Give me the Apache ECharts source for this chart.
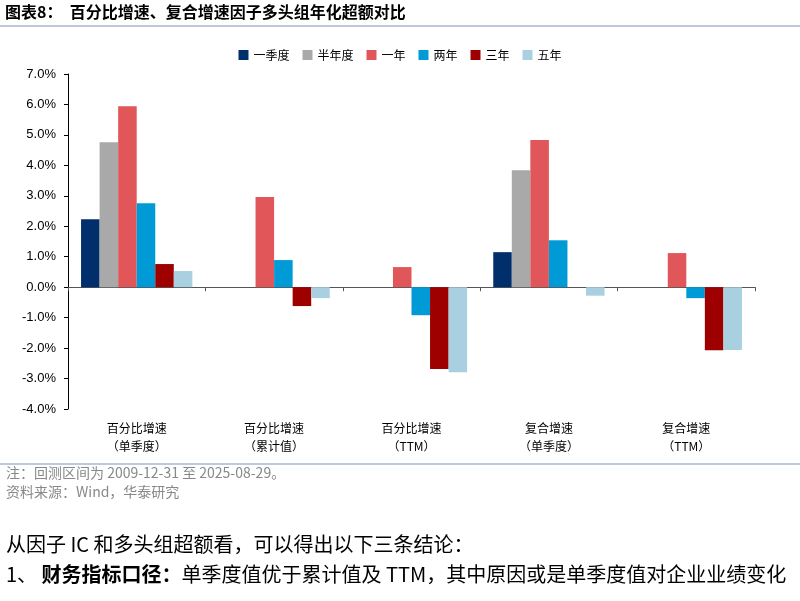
<!DOCTYPE html>
<html><head><meta charset="utf-8">
<script src="https://cdn.jsdelivr.net/npm/echarts@6/dist/echarts.min.js"></script>
<style>html,body{margin:0;padding:0;background:#fff}#c{width:800px;height:601px}</style>
</head><body><div id="c"></div>
<script>
var categories = ['百分比增速\n（单季度）','百分比增速\n（累计值）','百分比增速\n（TTM）','复合增速\n（单季度）','复合增速\n（TTM）'];
var seriesNames = ['一季度','半年度','一年','两年','三年','五年'];
var s1 = [2.23, null, null, 1.15, null];
var s2 = [4.76, null, null, 3.84, null];
var s3 = [5.94, 2.96, 0.66, 4.83, 1.12];
var s4 = [2.76, 0.89, -0.92, 1.54, -0.36];
var s5 = [0.76, -0.62, -2.69, 0.0, -2.07];
var s6 = [0.53, -0.36, -2.79, -0.28, -2.06];
var colors = ['#002f6c','#a9a9a9','#e15759','#009bd6','#9e0000','#a9d0e0'];
var yTicks = {min:-4, max:7, interval:1};

var font = '"Noto Sans CJK SC", "Liberation Sans", sans-serif';
var allData = [s1,s2,s3,s4,s5,s6];
var chart = echarts.init(document.getElementById('c'));
chart.setOption({
  animation:false,
  textStyle:{fontFamily:font},
  legend:{top:44, left:'center', itemWidth:10, itemHeight:10, itemGap:13,
    icon:'rect', textStyle:{fontSize:12, color:'#000', fontFamily:font},
    data:seriesNames},
  grid:{left:68, right:45, top:74, bottom:192, containLabel:false},
  xAxis:[{type:'category', data:categories, axisLine:{onZero:true, lineStyle:{color:'#555', width:1}},
      axisTick:{show:true, length:4, inside:false, lineStyle:{color:'#555'}}, axisLabel:{show:false}},
    {type:'category', data:categories, position:'bottom', axisLine:{show:false, onZero:false}, axisTick:{show:false},
      axisLabel:{show:true, margin:10, fontSize:12, lineHeight:18, color:'#000', fontFamily:font}}],
  yAxis:{type:'value', min:yTicks.min, max:yTicks.max, interval:yTicks.interval,
    axisLine:{show:true, lineStyle:{color:'#000'}}, axisTick:{show:true, length:4, lineStyle:{color:'#000'}},
    splitLine:{show:false},
    axisLabel:{formatter:function(v){return v.toFixed(1)+'%';}, fontSize:13, color:'#000', fontFamily:'"Liberation Sans", sans-serif', margin:12}},
  series: seriesNames.map(function(n,i){
    return {name:n, type:'bar', xAxisIndex:0, data:allData[i], barGap:'0%', barCategoryGap:'19%',
      itemStyle:{color:colors[i]}};
  }),
  graphic:[
    {type:'text', left:5, top:4, style:{text:'图表8：  百分比增速、复合增速因子多头组年化超额对比', font:'bold 16px '+font, fill:'#000'}},
    {type:'line', shape:{x1:0,y1:26,x2:800,y2:26}, style:{stroke:'#a8b8cc', lineWidth:1.5}},
    {type:'line', shape:{x1:0,y1:464,x2:800,y2:464}, style:{stroke:'#a8b8cc', lineWidth:1.5}},
    {type:'text', left:6, top:466, style:{text:'注：回测区间为 2009-12-31 至 2025-08-29。', font:'14px '+font, fill:'#888'}},
    {type:'text', left:6, top:485, style:{text:'资料来源：Wind，华泰研究', font:'14px '+font, fill:'#888'}},
    {type:'text', left:6, top:534, style:{text:'从因子 IC 和多头组超额看，可以得出以下三条结论：', font:'20px '+font, fill:'#000'}},
    {type:'text', left:6, top:564, style:{rich:{b:{font:'bold 20px '+font, fill:'#000'}, n:{font:'20px '+font, fill:'#000'}},
      text:'{n|1、 }{b|财务指标口径：}{n|单季度值优于累计值及 TTM，其中原因或是单季度值对企业业绩变化}'}}
  ]
});
</script></body></html>
